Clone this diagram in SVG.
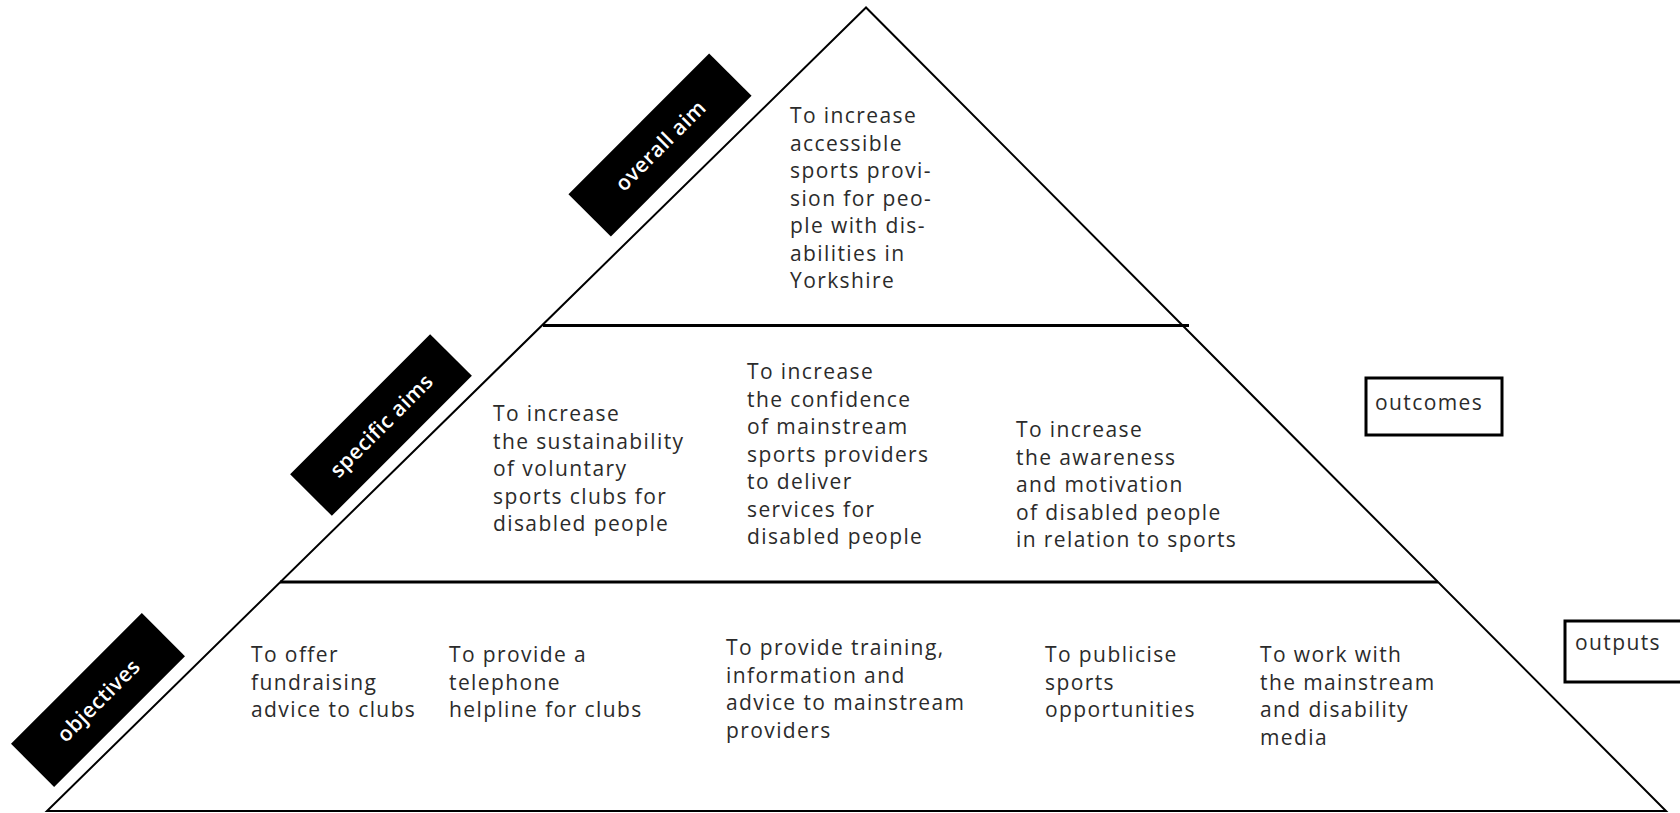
<svg xmlns="http://www.w3.org/2000/svg" width="1680" height="813" viewBox="0 0 1680 813">
  <style>
    .edge { fill: none; stroke: #000; stroke-width: 2; }
    .divider { fill: none; stroke: #000; stroke-width: 3; }
    .body { font-family: "Open Sans", "Noto Sans", sans-serif; font-size: 21px; fill: #2b2b2b; letter-spacing: 1.4px; }
    .tag rect { fill: #000; }
    .tag text { font-family: "Open Sans", "Noto Sans", sans-serif; font-size: 21px; font-weight: 600; fill: #fff; text-anchor: middle; dominant-baseline: central; letter-spacing: 0.5px; }
    .frame { fill: #fff; stroke: #000; stroke-width: 3; }
  </style>
  <rect width="1680" height="813" fill="#fff"/>

  <!-- pyramid outline and tier dividers -->
  <g id="connectors">
    <polygon class="edge" points="866,7.5 47,811 1666,811"/>
    <line class="divider" x1="543" y1="325.5" x2="1189" y2="325.5"/>
    <line class="divider" x1="280" y1="582" x2="1438" y2="582"/>
  </g>

  <!-- tier tags -->
  <g id="tag-overall-aim" class="tag" transform="translate(660,145) rotate(-45)">
    <rect x="-99.5" y="-30" width="199" height="60"/>
    <text x="0" y="0">overall aim</text>
  </g>
  <g id="tag-specific-aims" class="tag" transform="translate(381,425) rotate(-45)">
    <rect x="-99" y="-29.5" width="198" height="59"/>
    <text x="0" y="0">specific aims</text>
  </g>
  <g id="tag-objectives" class="tag" transform="translate(98,700) rotate(-45)">
    <rect x="-92.5" y="-30.5" width="185" height="61"/>
    <text x="0" y="0">objectives</text>
  </g>

  <!-- top tier: overall aim -->
  <g id="aim-overall">
    <text class="body" x="790" y="123">
      <tspan x="790" dy="0">To increase</tspan>
      <tspan x="790" dy="27.5">accessible</tspan>
      <tspan x="790" dy="27.5">sports provi-</tspan>
      <tspan x="790" dy="27.5">sion for peo-</tspan>
      <tspan x="790" dy="27.5">ple with dis-</tspan>
      <tspan x="790" dy="27.5">abilities in</tspan>
      <tspan x="790" dy="27.5">Yorkshire</tspan>
    </text>
  </g>

  <!-- middle tier: specific aims -->
  <g id="aim-clubs">
    <text class="body" x="493" y="421">
      <tspan x="493" dy="0">To increase</tspan>
      <tspan x="493" dy="27.5">the sustainability</tspan>
      <tspan x="493" dy="27.5">of voluntary</tspan>
      <tspan x="493" dy="27.5">sports clubs for</tspan>
      <tspan x="493" dy="27.5">disabled people</tspan>
    </text>
  </g>
  <g id="aim-providers">
    <text class="body" x="747" y="379">
      <tspan x="747" dy="0">To increase</tspan>
      <tspan x="747" dy="27.5">the confidence</tspan>
      <tspan x="747" dy="27.5">of mainstream</tspan>
      <tspan x="747" dy="27.5">sports providers</tspan>
      <tspan x="747" dy="27.5">to deliver</tspan>
      <tspan x="747" dy="27.5">services for</tspan>
      <tspan x="747" dy="27.5">disabled people</tspan>
    </text>
  </g>
  <g id="aim-awareness">
    <text class="body" x="1016" y="437">
      <tspan x="1016" dy="0">To increase</tspan>
      <tspan x="1016" dy="27.5">the awareness</tspan>
      <tspan x="1016" dy="27.5">and motivation</tspan>
      <tspan x="1016" dy="27.5">of disabled people</tspan>
      <tspan x="1016" dy="27.5">in relation to sports</tspan>
    </text>
  </g>

  <!-- bottom tier: objectives -->
  <g id="obj-fundraising">
    <text class="body" x="251" y="662">
      <tspan x="251" dy="0">To offer</tspan>
      <tspan x="251" dy="27.5">fundraising</tspan>
      <tspan x="251" dy="27.5">advice to clubs</tspan>
    </text>
  </g>
  <g id="obj-helpline">
    <text class="body" x="449" y="662">
      <tspan x="449" dy="0">To provide a</tspan>
      <tspan x="449" dy="27.5">telephone</tspan>
      <tspan x="449" dy="27.5">helpline for clubs</tspan>
    </text>
  </g>
  <g id="obj-training">
    <text class="body" x="726" y="655">
      <tspan x="726" dy="0">To provide training,</tspan>
      <tspan x="726" dy="27.5">information and</tspan>
      <tspan x="726" dy="27.5">advice to mainstream</tspan>
      <tspan x="726" dy="27.5">providers</tspan>
    </text>
  </g>
  <g id="obj-publicise">
    <text class="body" x="1045" y="662">
      <tspan x="1045" dy="0">To publicise</tspan>
      <tspan x="1045" dy="27.5">sports</tspan>
      <tspan x="1045" dy="27.5">opportunities</tspan>
    </text>
  </g>
  <g id="obj-media">
    <text class="body" x="1260" y="662">
      <tspan x="1260" dy="0">To work with</tspan>
      <tspan x="1260" dy="27.5">the mainstream</tspan>
      <tspan x="1260" dy="27.5">and disability</tspan>
      <tspan x="1260" dy="27.5">media</tspan>
    </text>
  </g>

  <!-- side labels -->
  <g id="label-outcomes">
    <rect class="frame" x="1366" y="378" width="136" height="57"/>
    <text class="body" x="1375" y="410">outcomes</text>
  </g>
  <g id="label-outputs">
    <rect class="frame" x="1565" y="621" width="120" height="61"/>
    <text class="body" x="1575" y="650">outputs</text>
  </g>
</svg>
